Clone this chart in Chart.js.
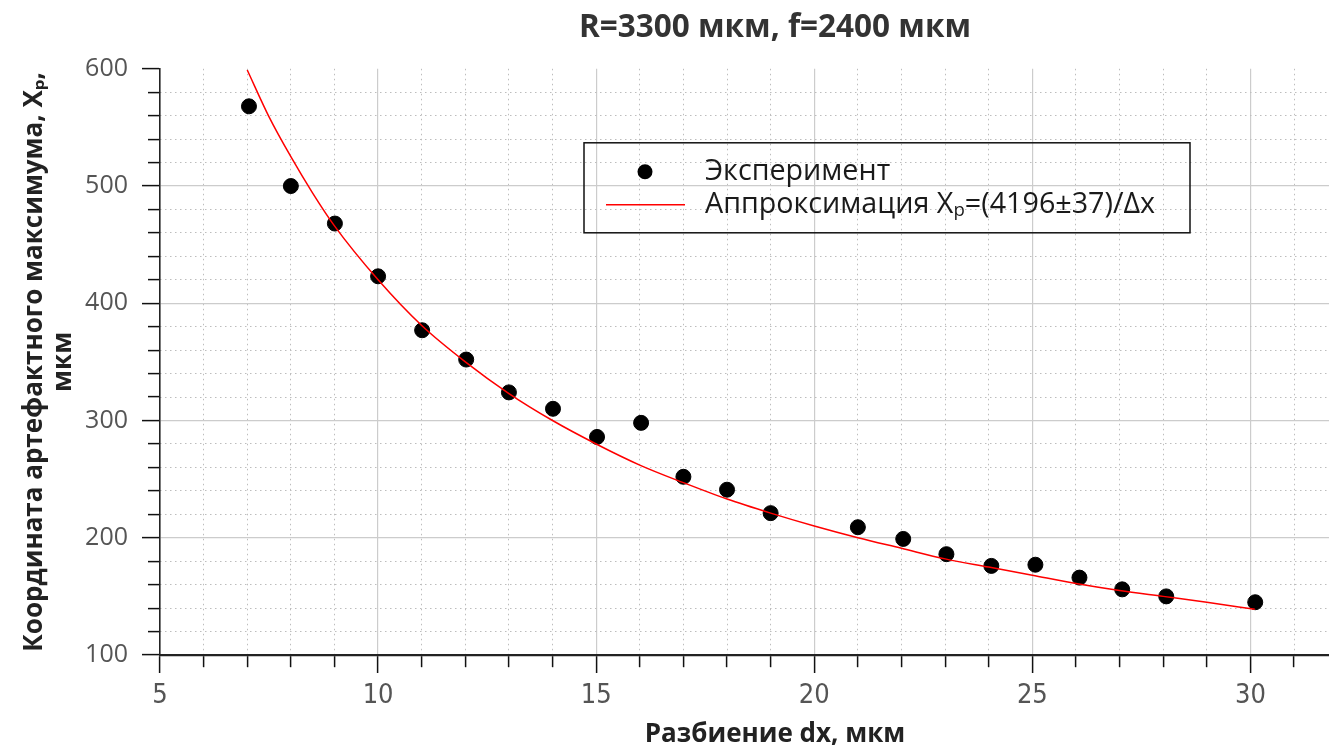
<!DOCTYPE html>
<html><head><meta charset="utf-8">
<script src="https://cdn.jsdelivr.net/npm/chart.js@4/dist/chart.umd.min.js"></script>
<style>html,body{margin:0;padding:0;overflow:hidden;background:#fff;width:1329px;height:750px}</style>
</head><body>
<canvas id="c" width="1550" height="750" style="display:block;width:1550px;height:750px"></canvas>
<script>
// ---- data ----
const expX = [7.04, 8.0, 9.01, 10.0, 11.01, 12.02, 13.0, 14.01, 15.02, 16.03, 17.0, 18.0, 19.0, 21.0, 22.04, 23.03, 24.06, 25.07, 26.08, 27.06, 28.07, 30.11];
const expY = [568, 500, 468, 423, 377, 352, 324, 310, 286, 298, 252, 241, 221, 209, 199, 186, 176, 177, 166, 156, 150, 145];
const fitX = [7, 7.5, 8, 8.5, 9, 10, 11, 12, 13, 14, 15, 16, 17, 18, 19, 20, 21, 22, 23, 24, 25, 26, 27, 28, 29, 30.1];
const fitY = [599, 559, 525, 494, 466, 420, 381, 350, 323, 300, 280, 262, 247, 233, 221, 210, 200, 191, 182, 175, 168, 161, 155, 150, 145, 139];
const xTickLabels = ['5', '10', '15', '20', '25', '30'];
const yTickLabels = ['100', '200', '300', '400', '500', '600'];
const titleText = 'R=3300 мкм, f=2400 мкм';
const xTitle = 'Разбиение dx, мкм';
const yTitle = ['Координата артефактного максимума, Xₚ,', 'мкм'];
const expLabel = 'Эксперимент';
const fitLabel = 'Аппроксимация Xₚ=(4196±37)/Δx';

const FONT = '"Open Sans", "DejaVu Sans", sans-serif';
const NARROW = '"DejaVu Sans Condensed", "Liberation Sans Narrow", "Open Sans", sans-serif';
const isMajorX = v => xTickLabels.includes(String(v));
const isMajorY = v => yTickLabels.includes(String(v));

const legendBox = {
  id: 'legendBox',
  afterDraw(chart) {
    const ctx = chart.ctx, a = chart.chartArea;
    const x0 = a.left + 424, y0 = a.top + 74, w = 606, h = 90;
    const ds = chart.data.datasets;
    ctx.save();
    ctx.strokeStyle = '#111'; ctx.lineWidth = 1.5;
    ctx.strokeRect(x0, y0, w, h);
    ctx.fillStyle = '#000';
    ctx.beginPath(); ctx.arc(x0 + 61, y0 + 29, 7.5, 0, Math.PI * 2); ctx.fill();
    ctx.strokeStyle = '#ff0000'; ctx.lineWidth = 1.5;
    ctx.beginPath(); ctx.moveTo(x0 + 22, y0 + 62); ctx.lineTo(x0 + 101, y0 + 62); ctx.stroke();
    ctx.font = '28.7px ' + FONT; ctx.fillStyle = '#1a1a1a'; ctx.textBaseline = 'middle'; ctx.textAlign = 'left';
    ctx.fillText(ds[1].label, x0 + 121, y0 + 29);
    ctx.fillText(ds[0].label, x0 + 121, y0 + 62);
    ctx.restore();
  }
};

new Chart(document.getElementById('c'), {
  type: 'scatter',
  data: {
    datasets: [
      { type: 'line', label: fitLabel, data: fitX.map((x, i) => ({x, y: fitY[i]})),
        borderColor: '#ff0000', borderWidth: 1.5, pointRadius: 0, fill: false,
        cubicInterpolationMode: 'monotone', order: 0 },
      { type: 'scatter', label: expLabel, data: expX.map((x, i) => ({x, y: expY[i]})),
        backgroundColor: '#000', borderColor: '#000', pointRadius: 7.5, pointHoverRadius: 7.5, order: 1 }
    ]
  },
  options: {
    responsive: false, animation: false, devicePixelRatio: 1,
    layout: { padding: { left: 0, right: 160, top: 0, bottom: 0 } },
    plugins: {
      legend: { display: false }, tooltip: { enabled: false },
      title: { display: true, fullSize: false, text: titleText, color: '#333',
        font: { family: FONT, size: 31.5, weight: 'bold', lineHeight: 1.2 },
        padding: { top: 9, bottom: 22 } }
    },
    scales: {
      x: {
        type: 'linear', position: 'bottom', min: 5, max: 33.2,
        afterBuildTicks: s => { s.ticks = s.ticks.filter(t => Number.isInteger(t.value)); },
        afterFit: s => { s.height = 95; },
        ticks: { stepSize: 1, autoSkip: false, maxRotation: 0, color: '#555', padding: 7,
          font: { family: NARROW, size: 27 },
          callback: v => isMajorX(v) ? String(v) : '' },
        grid: {
          color: c => (isMajorX(c.tick.value) && c.tick.value !== 5) ? '#cccccc' : 'rgba(0,0,0,0)',
          lineWidth: 1.2, tickLength: 18, tickColor: '#111', tickWidth: 1.5,
          tickBorderDash: c => isMajorX(c.tick.value) ? [] : [11, 30],
        },
        border: { display: true, color: '#222', width: 2.2 },
        title: { display: true, text: xTitle, color: '#222',
          font: { family: FONT, size: 26, weight: 'bold', lineHeight: 1.2 }, padding: { top: 0, bottom: 0 } }
      },
      x2: {
        type: 'linear', position: 'bottom', min: 5, max: 33.2,
        afterBuildTicks: s => { s.ticks = s.ticks.filter(t => Number.isInteger(t.value)); },
        ticks: { display: false, stepSize: 1, autoSkip: false },
        grid: { color: c => isMajorX(c.tick.value) ? 'rgba(0,0,0,0)' : '#bdbdbd', lineWidth: 1, drawTicks: false },
        border: { display: false, dash: [1.5, 3.5] }
      },
      y: {
        type: 'linear', position: 'left', min: 100, max: 600,
        afterFit: s => { s.width = 160; },
        ticks: { stepSize: 20, autoSkip: false, color: '#555', padding: 14,
          font: { family: FONT, size: 25 },
          callback: v => isMajorY(v) ? String(v) : '' },
        grid: {
          color: c => (isMajorY(c.tick.value) && c.tick.value !== 100 && c.tick.value !== 600) ? '#cccccc' : 'rgba(0,0,0,0)',
          lineWidth: 1.2, tickLength: 18, tickColor: '#111', tickWidth: 1.5,
          tickBorderDash: c => isMajorY(c.tick.value) ? [] : [12, 30],
          tickBorderDashOffset: c => isMajorY(c.tick.value) ? 0 : 36
        },
        border: { display: true, color: '#222', width: 1.6 },
        title: { display: true, text: yTitle, color: '#222',
          font: { family: FONT, size: 26, weight: 'bold', lineHeight: 1.08 }, padding: { top: 21, bottom: 0 } }
      },
      y2: {
        type: 'linear', position: 'left', min: 100, max: 600,
        ticks: { display: false, stepSize: 20, autoSkip: false },
        grid: { color: c => isMajorY(c.tick.value) ? 'rgba(0,0,0,0)' : '#bdbdbd', lineWidth: 1, drawTicks: false },
        border: { display: false, dash: [1.5, 3.5] }
      }
    }
  },
  plugins: [legendBox]
});
</script>
</body></html>
